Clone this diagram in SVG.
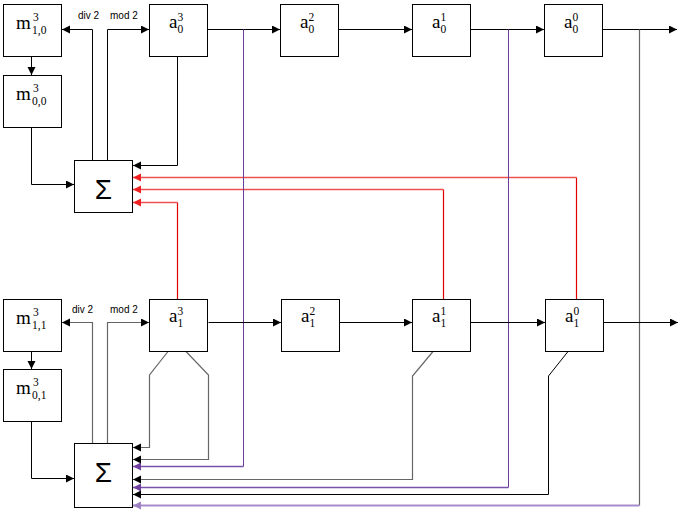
<svg xmlns="http://www.w3.org/2000/svg" width="684" height="513" viewBox="0 0 684 513">
<style>
.box{fill:#fff;stroke:#000;stroke-width:1}
.v{font-family:"Liberation Serif",serif;font-size:19px;fill:#000}
.s{font-size:11.5px}
.sig{font-family:"Liberation Sans",sans-serif;font-size:28px;fill:#000;text-anchor:middle}
.lbl{font-family:"Liberation Sans",sans-serif;font-size:10px;fill:#000}
.k{fill:none;stroke:#000;stroke-width:1}
.g{fill:none;stroke:#666;stroke-width:1.2}
.rv{fill:none;stroke:#e00000;stroke-width:1.2}
.rh{fill:none;stroke:#ef5050;stroke-width:1.6}
.pv{fill:none;stroke:#6a3a98;stroke-width:1}
.ph{fill:none;stroke:#7a50aa;stroke-width:1.5}
.lp{fill:none;stroke:#a68ccb;stroke-width:2}
</style>
<defs>
<marker id="ak" markerUnits="userSpaceOnUse" markerWidth="9" markerHeight="9" refX="8" refY="4" orient="auto"><path d="M0,0 L8,4 L0,8 z" fill="#000"/></marker>
<marker id="ar" markerUnits="userSpaceOnUse" markerWidth="9" markerHeight="9" refX="8" refY="4" orient="auto"><path d="M0,0 L8,4 L0,8 z" fill="#ee2020"/></marker>
<marker id="ap" markerUnits="userSpaceOnUse" markerWidth="9" markerHeight="9" refX="8" refY="4" orient="auto"><path d="M0,0 L8,4 L0,8 z" fill="#7040a0"/></marker>
<marker id="alp" markerUnits="userSpaceOnUse" markerWidth="9" markerHeight="9" refX="8" refY="4" orient="auto"><path d="M0,0 L8,4 L0,8 z" fill="#9e80c4"/></marker>
</defs>
<rect width="684" height="513" fill="#fff"/>

<g id="connectors">
<path class="k" d="M207.5,29.5 H280" marker-end="url(#ak)"/>
<path class="k" d="M338.5,29.5 H412" marker-end="url(#ak)"/>
<path class="k" d="M470.5,29.5 H544" marker-end="url(#ak)"/>
<path class="k" d="M602.5,29.5 H677" marker-end="url(#ak)"/>
<path class="k" d="M92.5,160 V29.5 H62" marker-end="url(#ak)"/>
<path class="k" d="M107.5,160 V29.5 H149" marker-end="url(#ak)"/>
<path class="k" d="M31.5,56.5 V75" marker-end="url(#ak)"/>
<path class="k" d="M31.5,127.5 V184.5 H74" marker-end="url(#ak)"/>
<path class="k" d="M177.5,56.5 V165.5 H133" marker-end="url(#ak)"/>
<path class="rv" d="M576.5,299 V177.5"/>
<path class="rh" d="M576.5,177.5 H133" marker-end="url(#ar)"/>
<path class="rv" d="M443.5,299 V189.5"/>
<path class="rh" d="M443.5,189.5 H133" marker-end="url(#ar)"/>
<path class="rv" d="M177.5,299 V202.5"/>
<path class="rh" d="M177.5,202.5 H133" marker-end="url(#ar)"/>
<path class="pv" d="M243.5,29.5 V466.5"/>
<path class="ph" d="M243.5,466.5 H133" marker-end="url(#ap)"/>
<path class="pv" d="M508.5,29.5 V487.5"/>
<path class="ph" d="M508.5,487.5 H133" marker-end="url(#ap)"/>
<path class="g" d="M639.5,29.5 V505.5"/>
<path class="lp" d="M639.5,505.5 H133" marker-end="url(#alp)"/>
<path class="k" d="M208.5,322.5 H281" marker-end="url(#ak)"/>
<path class="k" d="M339.5,322.5 H412" marker-end="url(#ak)"/>
<path class="k" d="M470.5,322.5 H545" marker-end="url(#ak)"/>
<path class="k" d="M603.5,322.5 H678" marker-end="url(#ak)"/>
<path class="g" d="M92.5,443 V322.5 H62" marker-end="url(#ak)"/>
<path class="g" d="M107.5,443 V322.5 H149" marker-end="url(#ak)"/>
<path class="k" d="M31.5,351.5 V369" marker-end="url(#ak)"/>
<path class="k" d="M31.5,421.5 V478.5 H74" marker-end="url(#ak)"/>
<path class="g" d="M168,351.5 L149.5,375 V447.5 H133" marker-end="url(#ak)"/>
<path class="g" d="M186,351.5 L208.5,375 V459.5 H133" marker-end="url(#ak)"/>
<path class="g" d="M433,351.5 L412.5,376 V479.5 H133" marker-end="url(#ak)"/>
<path class="k" d="M568,351.5 L548.5,376 V494.5 H133" marker-end="url(#ak)"/>
</g>

<text class="lbl" x="78" y="19">div 2</text>
<text class="lbl" x="110" y="19">mod 2</text>
<text class="lbl" x="72" y="313">div 2</text>
<text class="lbl" x="110" y="313">mod 2</text>

<g id="m10"><rect class="box" x="3.5" y="4.5" width="58" height="52"/>
<text class="v" x="16" y="29">m<tspan class="s" x="33" dy="-8">3</tspan><tspan class="s" x="32" dy="12.8">1,0</tspan></text></g>
<g id="m00"><rect class="box" x="3.5" y="75.5" width="58" height="52"/>
<text class="v" x="16" y="100">m<tspan class="s" x="33" dy="-8">3</tspan><tspan class="s" x="32" dy="12.8">0,0</tspan></text></g>
<g id="sum0"><rect class="box" x="74.5" y="160.5" width="58" height="52"/>
<text class="sig" x="103.5" y="199">Σ</text></g>
<g id="a30"><rect class="box" x="149.5" y="4.5" width="58" height="52"/>
<text class="v" x="169" y="28">a<tspan class="s" x="177.5" dy="-7.5">3</tspan><tspan class="s" x="177.5" dy="12.8">0</tspan></text></g>
<g id="a20"><rect class="box" x="280.5" y="4.5" width="58" height="52"/>
<text class="v" x="300" y="28">a<tspan class="s" x="308.5" dy="-7.5">2</tspan><tspan class="s" x="308.5" dy="12.8">0</tspan></text></g>
<g id="a10"><rect class="box" x="412.5" y="4.5" width="58" height="52"/>
<text class="v" x="432" y="28">a<tspan class="s" x="440.5" dy="-7.5">1</tspan><tspan class="s" x="440.5" dy="12.8">0</tspan></text></g>
<g id="a00"><rect class="box" x="544.5" y="4.5" width="58" height="52"/>
<text class="v" x="564" y="28">a<tspan class="s" x="572.5" dy="-7.5">0</tspan><tspan class="s" x="572.5" dy="12.8">0</tspan></text></g>

<g id="m11"><rect class="box" x="3.5" y="299.5" width="58" height="52"/>
<text class="v" x="16" y="324">m<tspan class="s" x="33" dy="-8">3</tspan><tspan class="s" x="32" dy="12.8">1,1</tspan></text></g>
<g id="m01"><rect class="box" x="3.5" y="369.5" width="58" height="52"/>
<text class="v" x="16" y="394">m<tspan class="s" x="33" dy="-8">3</tspan><tspan class="s" x="32" dy="12.8">0,1</tspan></text></g>
<g id="sum1"><rect class="box" x="74.5" y="443.5" width="58" height="64"/>
<text class="sig" x="103.5" y="482">Σ</text></g>
<g id="a31"><rect class="box" x="149.5" y="299.5" width="58" height="52"/>
<text class="v" x="169" y="322">a<tspan class="s" x="177.5" dy="-7.5">3</tspan><tspan class="s" x="177.5" dy="12.8">1</tspan></text></g>
<g id="a21"><rect class="box" x="281.5" y="299.5" width="58" height="52"/>
<text class="v" x="301" y="322">a<tspan class="s" x="309.5" dy="-7.5">2</tspan><tspan class="s" x="309.5" dy="12.8">1</tspan></text></g>
<g id="a11"><rect class="box" x="412.5" y="299.5" width="58" height="52"/>
<text class="v" x="432" y="322">a<tspan class="s" x="440.5" dy="-7.5">1</tspan><tspan class="s" x="440.5" dy="12.8">1</tspan></text></g>
<g id="a01"><rect class="box" x="545.5" y="299.5" width="58" height="52"/>
<text class="v" x="565" y="322">a<tspan class="s" x="573.5" dy="-7.5">0</tspan><tspan class="s" x="573.5" dy="12.8">1</tspan></text></g>
</svg>
